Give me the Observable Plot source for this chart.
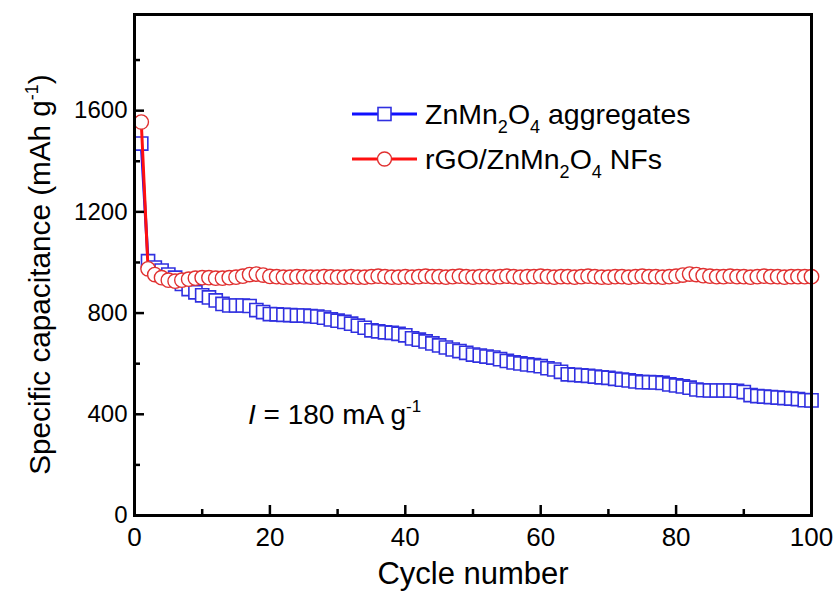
<!DOCTYPE html>
<html>
<head>
<meta charset="utf-8">
<script src="https://cdn.jsdelivr.net/npm/d3@7"></script>
<script src="https://cdn.jsdelivr.net/npm/@observablehq/plot@0.6"></script>
<style>
  html, body { margin: 0; padding: 0; background: #fff; }
  #chart svg { display: block; }
</style>
</head>
<body>
<div id="chart"></div>
<script>
// ---- data ----
const cycles = d3.range(1, 101);
const aggregates = [
  1470, 1005, 980, 968, 952, 940, 915, 895, 882, 870,
  862, 850, 836, 830, 830, 830, 828, 812, 804, 796,
  795, 793, 792, 790, 790, 788, 786, 782, 775, 770,
  765, 758, 750, 742, 732, 728, 724, 722, 718, 712,
  700, 695, 688, 680, 672, 664, 656, 650, 643, 636,
  632, 628, 624, 618, 611, 605, 601, 597, 594, 590,
  582, 577, 568, 558, 556, 554, 552, 549, 546, 544,
  540, 537, 534, 530, 527, 527, 526, 524, 518, 514,
  510, 505, 498, 495, 494, 494, 494, 494, 493, 488,
  476, 472, 470, 468, 466, 464, 462, 460, 456, 455
];
const nanofibers = [
  1555, 975, 952, 940, 930, 926, 930, 934, 938, 940,
  940, 938, 938, 940, 942, 946, 952, 954, 950, 945,
  944, 942, 942, 944, 943, 942, 942, 944, 943, 942,
  942, 944, 942, 942, 944, 946, 944, 942, 942, 944,
  942, 944, 946, 944, 944, 942, 944, 946, 944, 942,
  944, 944, 942, 944, 946, 944, 942, 944, 944, 946,
  944, 942, 944, 944, 942, 944, 946, 944, 942, 942,
  944, 944, 942, 944, 946, 944, 944, 942, 944, 946,
  950, 954, 952, 948, 946, 944, 944, 946, 944, 944,
  942, 944, 946, 944, 944, 942, 944, 944, 944, 944
];
const xMajor = [0, 20, 40, 60, 80, 100];
const xMinor = [10, 30, 50, 70, 90];
const yMajor = [0, 400, 800, 1200, 1600];
const yMinor = [200, 600, 1000, 1400, 1800];

const blueData = cycles.map((c, i) => ({cycle: c, value: aggregates[i]}));
const redData = cycles.map((c, i) => ({cycle: c, value: nanofibers[i]}));

const W = 839, H = 591;
const mL = 134, mR = 28, mT = 14, mB = 76;
const plotW = W - mL - mR, plotH = H - mT - mB;
const FONT = "'Liberation Sans', Arial, Helvetica, sans-serif";

const BLUE_LINE = "#1010ff", BLUE_MK = "#3030e0";
const RED_LINE = "#ff1010", RED_MK = "#e03030";

const chart = Plot.plot({
  width: W,
  height: H,
  marginLeft: mL, marginRight: mR, marginTop: mT, marginBottom: mB,
  style: {fontFamily: FONT, background: "#fff", color: "#000"},
  x: {domain: [0, 100], axis: null},
  y: {domain: [0, 1980], axis: null},
  marks: [
    Plot.lineY(blueData, {x: "cycle", y: "value", stroke: BLUE_LINE, strokeWidth: 3}),
    Plot.dot(blueData, {x: "cycle", y: "value", symbol: "square", r: 7.4, stroke: BLUE_MK, strokeWidth: 1.6, fill: "#fff"}),
    Plot.lineY(redData, {x: "cycle", y: "value", stroke: RED_LINE, strokeWidth: 3}),
    Plot.dot(redData, {x: "cycle", y: "value", symbol: "circle", r: 7.2, stroke: RED_MK, strokeWidth: 1.4, fill: "#fff"}),
    // inward ticks
    Plot.tickX(xMajor, {x: d => d, stroke: "#000", strokeWidth: 2.5, insetTop: plotH - 10}),
    Plot.tickX(xMinor, {x: d => d, stroke: "#000", strokeWidth: 2.5, insetTop: plotH - 6}),
    Plot.tickY(yMajor, {y: d => d, stroke: "#000", strokeWidth: 2.5, insetRight: plotW - 10}),
    Plot.tickY(yMinor, {y: d => d, stroke: "#000", strokeWidth: 2.5, insetRight: plotW - 6}),
    Plot.frame({stroke: "#000", strokeWidth: 3}),
    Plot.axisX({ticks: xMajor, tickSize: 0, tickPadding: 12, fontSize: 26, label: null, tickFormat: d => String(d)}),
    Plot.axisY({ticks: yMajor, tickSize: 0, tickPadding: 7, fontSize: 24, label: null, tickFormat: d => String(d)})
  ]
});

document.getElementById("chart").appendChild(chart);

// ---- titles, legend, annotation ----
const svg = d3.select(chart);
const g = svg.append("g").attr("font-family", FONT).attr("fill", "#000").attr("text-anchor", "start");

// x title
g.append("text")
  .attr("x", 473).attr("y", 584)
  .attr("text-anchor", "middle").attr("font-size", 31)
  .text("Cycle number");

// y title
const yt = g.append("text")
  .attr("transform", `translate(50, ${mT + plotH / 2 + 10}) rotate(-90)`)
  .attr("text-anchor", "middle").attr("font-size", 29.7);
yt.append("tspan").text("Specific capacitance (mAh g");
yt.append("tspan").attr("font-size", 18).attr("dy", -12).text("-1");
yt.append("tspan").attr("dy", 12).text(")");

// legend
const legend = [
  {color: BLUE_LINE, mk: BLUE_MK, shape: "square", y: 114, parts: [["ZnMn"], ["2", "sub"], ["O"], ["4", "sub"], [" aggregates"]]},
  {color: RED_LINE, mk: RED_MK, shape: "circle", y: 159, parts: [["rGO/ZnMn"], ["2", "sub"], ["O"], ["4", "sub"], [" NFs"]]}
];
legend.forEach(l => {
  g.append("line").attr("x1", 352).attr("x2", 417).attr("y1", l.y).attr("y2", l.y)
    .attr("stroke", l.color).attr("stroke-width", 3);
  if (l.shape === "square") {
    g.append("rect").attr("x", 378).attr("y", l.y - 6.5).attr("width", 13).attr("height", 13)
      .attr("fill", "#fff").attr("stroke", l.mk).attr("stroke-width", 1.6);
  } else {
    g.append("circle").attr("cx", 384.5).attr("cy", l.y).attr("r", 7)
      .attr("fill", "#fff").attr("stroke", l.mk).attr("stroke-width", 1.4);
  }
  const t = g.append("text").attr("x", 425).attr("y", l.y + 10).attr("font-size", 28.5);
  let shifted = false;
  l.parts.forEach(([s, kind]) => {
    const ts = t.append("tspan").text(s);
    if (kind === "sub") {
      ts.attr("font-size", 18);
      if (!shifted) { ts.attr("dy", 9); shifted = true; }
    } else if (shifted) { ts.attr("dy", -9); shifted = false; }
  });
});

// annotation
const an = g.append("text").attr("x", 248).attr("y", 424).attr("font-size", 28);
an.append("tspan").attr("font-style", "italic").text("I");
an.append("tspan").text(" = 180 mA g");
an.append("tspan").attr("font-size", 17).attr("dy", -12).text("-1");
</script>
</body>
</html>
